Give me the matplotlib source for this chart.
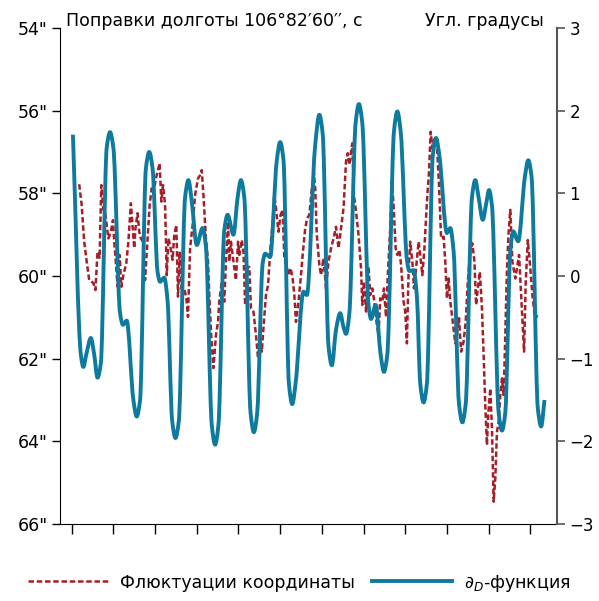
import numpy as np
import matplotlib.pyplot as plt
from matplotlib.path import Path
from matplotlib.patches import PathPatch
from matplotlib.lines import Line2D

# D-function, right axis (degrees)
d_x = [0.03, 0.22, 0.28, 0.35, 0.46, 0.54, 0.62, 0.70, 0.84, 0.92, 1.00,
       1.16, 1.23, 1.32, 1.48, 1.56, 1.64, 1.78, 1.86, 1.94, 2.06, 2.12,
       2.22, 2.30, 2.41, 2.49, 2.57, 2.72, 2.80, 2.88, 3.00, 3.14, 3.22,
       3.36, 3.44, 3.52, 3.66, 3.74, 3.88, 3.98, 4.06, 4.14, 4.29, 4.37,
       4.45, 4.58, 4.64, 4.76, 4.92, 5.00, 5.08, 5.21, 5.29, 5.37, 5.56,
       5.64, 5.84, 5.94, 6.02, 6.16, 6.24, 6.34, 6.44, 6.52, 6.58, 6.66,
       6.81, 6.89, 6.97, 7.12, 7.18, 7.29, 7.41, 7.49, 7.57, 7.73, 7.81,
       7.89, 8.04, 8.10, 8.20, 8.28, 8.36, 8.44, 8.52, 8.66, 8.74, 8.82,
       9.00, 9.08, 9.16, 9.29, 9.37, 9.45, 9.60, 9.68, 9.76, 9.86, 9.95,
       10.01, 10.08, 10.24, 10.32, 10.40, 10.52, 10.59, 10.71, 10.87,
       10.95, 11.03, 11.18, 11.26, 11.34]
d_val = [1.71, -0.95, -1.10, -0.95, -0.75, -0.95, -1.23, -1.05, 1.55, 1.74,
         1.55, -0.45, -0.59, -0.54, -1.50, -1.70, -1.50, 1.30, 1.50, 1.30,
         0.05, -0.07, -0.02, -0.30, -1.75, -1.96, -1.75, 0.95, 1.16, 0.90,
         0.375, 0.58, 0.35, -1.80, -2.04, -1.80, 0.55, 0.74, 0.50, 0.95,
         1.16, 0.95, -1.65, -1.89, -1.65, 0.15, 0.27, 0.23, 1.40, 1.62,
         1.40, -1.30, -1.55, -1.30, -0.19, -0.23, 1.58, 1.95, 1.72, -0.85,
         -1.08, -0.65, -0.45, -0.62, -0.70, -0.45, 1.85, 2.08, 1.85, -0.35,
         -0.52, -0.35, -0.95, -1.16, -0.95, 1.75, 1.99, 1.75, 0.20, 0.06,
         0.07, -0.25, -1.30, -1.53, -1.30, 1.45, 1.67, 1.45, 0.52, 0.58,
         0.30, -1.55, -1.77, -1.55, 0.95, 1.16, 0.95, 0.68, 0.90, 1.04,
         0.85, -1.65, -1.87, -1.65, 0.30, 0.54, 0.42, 1.20, 1.40, 1.20,
         -1.60, -1.82, -1.50]

# coordinate fluctuations, left axis (arc seconds)
f_x = [0.18, 0.24, 0.30, 0.36, 0.42, 0.48, 0.52, 0.57, 0.62, 0.67, 0.71,
       0.76, 0.80, 0.88, 0.94, 0.99, 1.02, 1.07, 1.10, 1.15, 1.19, 1.24,
       1.31, 1.36, 1.42, 1.47, 1.50, 1.53, 1.58, 1.62, 1.66, 1.71, 1.76,
       1.82, 1.87, 1.92, 1.96, 2.02, 2.07, 2.11, 2.15, 2.19, 2.24, 2.28,
       2.32, 2.36, 2.42, 2.46, 2.51, 2.55, 2.59, 2.63, 2.70, 2.75, 2.79,
       2.84, 2.90, 2.96, 3.03, 3.08, 3.12, 3.16, 3.22, 3.27, 3.30, 3.35,
       3.40, 3.46, 3.51, 3.54, 3.60, 3.66, 3.70, 3.75, 3.78, 3.82, 3.88,
       3.94, 3.99, 4.02, 4.08, 4.12, 4.16, 4.21, 4.26, 4.30, 4.36, 4.42,
       4.47, 4.51, 4.56, 4.61, 4.66, 4.71, 4.76, 4.82, 4.86, 4.90, 4.96,
       5.01, 5.06, 5.10, 5.14, 5.20, 5.25, 5.30, 5.34, 5.38, 5.44, 5.50,
       5.54, 5.60, 5.65, 5.70, 5.76, 5.81, 5.84, 5.88, 5.94, 5.98, 6.04,
       6.10, 6.16, 6.22, 6.28, 6.34, 6.40, 6.46, 6.52, 6.58, 6.62, 6.66,
       6.70, 6.73, 6.77, 6.82, 6.88, 6.94, 6.97, 7.01, 7.06, 7.12, 7.16,
       7.21, 7.26, 7.32, 7.36, 7.40, 7.45, 7.49, 7.54, 7.58, 7.64, 7.68,
       7.72, 7.77, 7.81, 7.86, 7.90, 7.96, 8.00, 8.04, 8.08, 8.12, 8.17,
       8.21, 8.26, 8.32, 8.36, 8.41, 8.46, 8.52, 8.57, 8.61, 8.65, 8.70,
       8.76, 8.81, 8.86, 8.92, 8.96, 9.00, 9.04, 9.08, 9.13, 9.20, 9.24,
       9.29, 9.34, 9.40, 9.45, 9.50, 9.56, 9.61, 9.66, 9.70, 9.74, 9.79,
       9.84, 9.88, 9.92, 9.96, 9.99, 10.04, 10.08, 10.12, 10.16, 10.20,
       10.24, 10.28, 10.32, 10.36, 10.40, 10.44, 10.48, 10.52, 10.57,
       10.64, 10.68, 10.73, 10.78, 10.82, 10.85, 10.89, 10.94, 11.00,
       11.05, 11.12, 11.16]
f_val = [57.78, 58.28, 59.17, 59.65, 60.10, 60.14, 60.17, 60.34, 59.41,
         59.56, 57.80, 58.40, 58.44, 59.09, 58.93, 58.65, 59.17, 59.81,
         60.26, 59.49, 60.26, 59.98, 59.69, 59.17, 58.24, 58.93, 59.33,
         58.85, 58.48, 58.93, 59.09, 59.17, 60.10, 59.09, 58.28, 57.88,
         58.00, 57.64, 57.44, 57.27, 58.20, 57.80, 58.28, 59.98, 59.09,
         59.25, 59.61, 59.01, 58.77, 60.50, 59.41, 60.30, 60.30, 60.54,
         60.99, 59.33, 58.77, 58.04, 57.64, 57.56, 57.44, 58.04, 59.09,
         59.65, 60.46, 61.51, 62.23, 61.43, 61.11, 60.62, 60.14, 60.62,
         59.65, 58.69, 59.65, 59.17, 59.65, 60.10, 59.17, 59.49, 59.13,
         59.41, 60.70, 59.81, 59.78, 60.78, 60.86, 61.43, 61.99, 61.43,
         61.83, 61.11, 60.46, 60.22, 59.41, 58.69, 58.04, 58.36, 58.93,
         58.52, 58.40, 59.57, 59.69, 59.98, 59.81, 60.06, 60.46, 61.11,
         60.62, 59.98, 59.49, 58.85, 58.60, 58.52, 57.88, 57.52, 57.88,
         59.01, 59.73, 59.98, 59.57, 60.30, 59.65, 59.33, 59.09, 58.81,
         59.33, 58.85, 58.36, 57.23, 57.03, 57.31, 56.99, 56.79, 58.04,
         58.44, 59.01, 59.81, 60.70, 60.14, 60.86, 59.78, 60.46, 60.30,
         60.62, 61.19, 61.43, 60.54, 60.62, 60.30, 60.99, 60.02, 58.85,
         57.72, 58.28, 59.33, 59.49, 59.37, 59.73, 60.62, 60.86, 61.63,
         59.90, 59.17, 59.65, 60.30, 59.81, 59.17, 59.49, 59.98, 59.33,
         58.20, 57.48, 56.51, 56.91, 56.67, 56.83, 57.80, 59.09, 59.05,
         59.65, 60.54, 60.06, 60.62, 61.02, 61.63, 61.43, 61.02, 61.83,
         61.59, 61.11, 60.14, 59.41, 59.21, 59.65, 60.70, 60.30, 59.90,
         60.78, 61.91, 63.12, 64.09, 63.36, 62.72, 63.69, 65.46, 64.90,
         63.77, 63.53, 62.88, 62.48, 62.88, 61.43, 59.81, 58.93, 58.40,
         59.65, 60.06, 59.81, 59.49, 60.46, 61.27, 61.83, 60.14, 59.13,
         59.81, 60.46, 61.11, 60.94]

left_ticks = [54, 56, 58, 60, 62, 64, 66]
left_labels = [f'{t}"' for t in left_ticks]
right_ticks = [3, 2, 1, 0, -1, -2, -3]
right_labels = [str(t).replace('-', '\u2212') for t in right_ticks]
x_ticks = list(range(12))

red = '#a61e28'
blue = '#0e7a9d'
W, H = 599, 601


def smooth_path(x, y):
    # monotone cubic (Fritsch-Carlson) drawn as bezier segments
    x = np.asarray(x, float)
    y = np.asarray(y, float)
    h = np.diff(x)
    d = np.diff(y) / h
    m = np.zeros_like(y)
    m[0], m[-1] = d[0], d[-1]
    for i in range(1, len(x) - 1):
        if d[i - 1] * d[i] > 0:
            w1 = 2 * h[i] + h[i - 1]
            w2 = h[i] + 2 * h[i - 1]
            m[i] = (w1 + w2) / (w1 / d[i - 1] + w2 / d[i])
    verts = [(x[0], y[0])]
    codes = [Path.MOVETO]
    for i in range(len(x) - 1):
        verts += [(x[i] + h[i] / 3, y[i] + m[i] * h[i] / 3),
                  (x[i + 1] - h[i] / 3, y[i + 1] - m[i + 1] * h[i] / 3),
                  (x[i + 1], y[i + 1])]
        codes += [Path.CURVE4] * 3
    return Path(verts, codes)


plt.rcParams['font.family'] = ['DejaVu Sans']
plt.rcParams['font.size'] = 12.5

fig = plt.figure(figsize=(W / 100, H / 100), dpi=100)
ax = fig.add_axes([60 / W, 1 - 524 / H, (557 - 60) / W, (524 - 28) / H])

ax.plot(f_x, f_val, color=red, lw=1.8, dashes=(2.2, 1.1))
ax.set_ylim(66, 54)
ax.set_xlim(-0.28, 11.64)
ax.set_yticks(left_ticks)
ax.set_yticklabels(left_labels)
ax.set_xticks(x_ticks)
ax.set_xticklabels([])
ax.tick_params(axis='y', direction='out', length=6, width=1, pad=3)
ax.tick_params(axis='x', direction='out', length=7, width=1)
ax.spines['top'].set_visible(False)
ax.spines['right'].set_visible(False)

ax2 = ax.twinx()
ax2.add_patch(PathPatch(smooth_path(d_x, d_val), fill=False, edgecolor=blue,
                        lw=2.8, capstyle='butt', joinstyle='round'))
ax2.set_ylim(-3, 3)
ax2.set_yticks(right_ticks)
ax2.set_yticklabels(right_labels, fontsize=12)
ax2.tick_params(axis='y', direction='out', length=6, width=1.2,
                color='#555555', pad=3)
for s in ['top', 'left', 'bottom']:
    ax2.spines[s].set_visible(False)
ax2.spines['right'].set_color('#555555')
ax2.spines['right'].set_linewidth(1.5)

fig.text(66 / W, 1 - 26 / H, 'Поправки долготы 106°82′60′′, с',
         ha='left', va='baseline')
fig.text(544 / W, 1 - 26 / H, 'Угл. градусы', ha='right', va='baseline')

handles = [Line2D([], [], color=red, lw=1.8, dashes=(2.2, 1.1)),
           Line2D([], [], color=blue, lw=2.8)]
labels = ['Флюктуации координаты', r'$\partial_D$-функция']
fig.legend(handles, labels, loc='center', bbox_to_anchor=(0.5, 1 - 583 / H),
           ncol=2, frameon=False, handlelength=4.6, columnspacing=1.0,
           handletextpad=0.7)

fig.savefig('out.png', dpi=100)
